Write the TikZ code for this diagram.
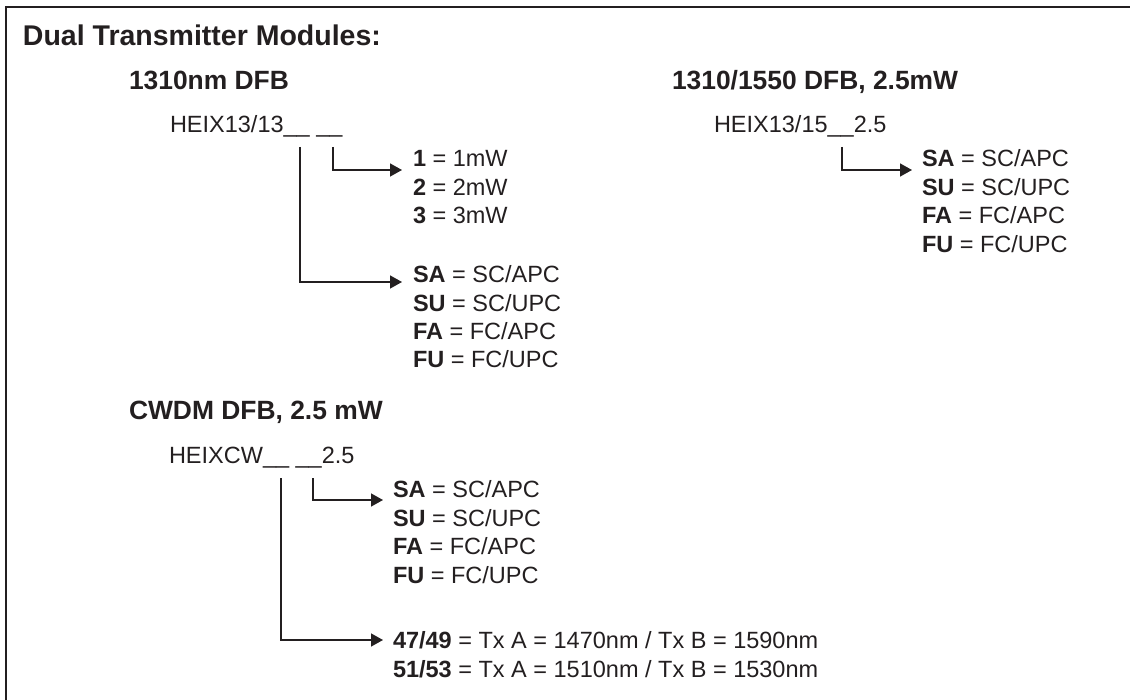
\documentclass[tikz,border=0pt]{standalone}
\usepackage{fontspec}
\setmainfont{Liberation Sans}
\usetikzlibrary{arrows.meta}
\definecolor{ink}{RGB}{35,31,32}
\begin{document}
\begin{tikzpicture}[x=1pt,y=-1pt,
  every node/.style={inner sep=0pt, outer sep=0pt, text=ink, anchor=base west},
  titletext/.style={font=\fontsize{28.5}{30}\selectfont\bfseries},
  headtext/.style={font=\fontsize{26.4}{28}\selectfont\bfseries},
  bodytext/.style={font=\fontsize{23.5}{28}\selectfont},
  conn/.style={draw=ink, line width=1.5pt, -{Triangle[length=12pt,width=13pt]}},
  framebox/.style={draw=ink, line width=2.2pt}]
\useasboundingbox (0,0) rectangle (1130,700);
\draw[framebox] (6,712) -- (6,7) -- (1142,7);

\node[titletext] (title) at (23,46) {Dual Transmitter Modules:};

% Block 1
\node[headtext] (h1) at (129,90) {1310nm DFB};
\node[bodytext] (p1) at (170,133) {HEIX13/13\_\_ \_\_};
\coordinate (p1a) at (300,147);
\coordinate (p1b) at (333,147);
\node[bodytext] (m1) at (413,167) {\textbf{1} = 1mW};
\node[bodytext] (m2) at (413,196) {\textbf{2} = 2mW};
\node[bodytext] (m3) at (413,224) {\textbf{3} = 3mW};
\node[bodytext] (c1) at (413,283) {\textbf{SA} = SC/APC};
\node[bodytext] (c2) at (413,312) {\textbf{SU} = SC/UPC};
\node[bodytext] (c3) at (413,340) {\textbf{FA} = FC/APC};
\node[bodytext] (c4) at (413,368) {\textbf{FU} = FC/UPC};
\draw[conn] (p1b) |- ([xshift=-11pt,yshift=-3pt]m1.base west);
\draw[conn] (p1a) |- ([xshift=-11pt,yshift=1pt]c1.base west);

% Block 2
\node[headtext] (h2) at (672,90) {1310/1550 DFB, 2.5mW};
\node[bodytext] (p2) at (714,133) {HEIX13/15\_\_2.5};
\coordinate (p2a) at (842,147);
\node[bodytext] (d1) at (922,167) {\textbf{SA} = SC/APC};
\node[bodytext] (d2) at (922,196) {\textbf{SU} = SC/UPC};
\node[bodytext] (d3) at (922,224) {\textbf{FA} = FC/APC};
\node[bodytext] (d4) at (922,253) {\textbf{FU} = FC/UPC};
\draw[conn] (p2a) |- ([xshift=-10pt,yshift=-3pt]d1.base west);

% Block 3
\node[headtext] (h3) at (129,420) {CWDM DFB, 2.5 mW};
\node[bodytext] (p3) at (169,464) {HEIXCW\_\_ \_\_2.5};
\coordinate (p3a) at (281,478);
\coordinate (p3b) at (313,478);
\node[bodytext] (e1) at (393,497) {\textbf{SA} = SC/APC};
\node[bodytext] (e2) at (393,526) {\textbf{SU} = SC/UPC};
\node[bodytext] (e3) at (393,554) {\textbf{FA} = FC/APC};
\node[bodytext] (e4) at (393,583) {\textbf{FU} = FC/UPC};
\node[bodytext] (w1) at (393,648) {\textbf{47/49} = Tx A = 1470nm / Tx B = 1590nm};
\node[bodytext] (w2) at (393,677) {\textbf{51/53} = Tx A = 1510nm / Tx B = 1530nm};
\draw[conn] (p3b) |- ([xshift=-10pt,yshift=-3pt]e1.base west);
\draw[conn] (p3a) |- ([xshift=-10pt,yshift=8pt]w1.base west);
\end{tikzpicture}
\end{document}
